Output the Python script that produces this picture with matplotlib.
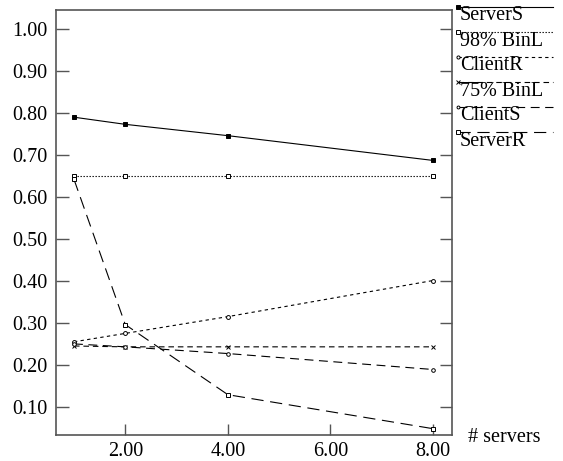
import matplotlib
matplotlib.use("Agg")
import matplotlib.pyplot as plt
from matplotlib.lines import Line2D

plt.rcParams['font.family'] = ['Liberation Serif', 'DejaVu Serif']

# number of servers
servers = [1, 2, 4, 8]

# one entry per curve
names = ["ServerS", "98% BinL", "ClientR", "75% BinL", "ClientS", "ServerR"]
server_s = [0.790, 0.773, 0.746, 0.687]
binl_98 = [0.650, 0.650, 0.650, 0.650]
client_r = [0.255, 0.275, 0.315, 0.401]
binl_75 = [0.245, 0.243, 0.243, 0.243]
client_s = [0.250, 0.243, 0.227, 0.189]
server_r = [0.642, 0.296, 0.129, 0.048]

yticks = [0.10, 0.20, 0.30, 0.40, 0.50, 0.60, 0.70, 0.80, 0.90, 1.00]
xticks = [2, 4, 6, 8]

series = [server_s, binl_98, client_r, binl_75, client_s, server_r]
styles = [
    dict(linestyle='-', marker='s', mfc='black', ms=3.2),
    dict(linestyle=(0, (1.2, 1.5)), marker='s', mfc='white', ms=3.4),
    dict(linestyle=(0, (3, 3)), marker='o', mfc='white', ms=2.8),
    dict(linestyle=(0, (5, 3.5)), marker='x', mfc='white', ms=3.2),
    dict(linestyle=(0, (8, 5)), marker='o', mfc='white', ms=2.6),
    dict(linestyle=(0, (11, 6)), marker='s', mfc='white', ms=3.4),
]
FS = 14.5

fig = plt.figure(figsize=(5.63, 4.61), dpi=100)
ax = fig.add_axes([0.0995, 0.0564, 0.7035, 0.9216])

for vals, st in zip(series, styles):
    ax.plot(servers, vals, color='black', lw=0.8, mec='black', mew=0.7, **st)

ax.set_xlim(0.65, 8.37)
ax.set_ylim(0.033, 1.045)
ax.set_xticks(xticks)
ax.set_xticklabels(["%.2f" % v for v in xticks], fontsize=FS)
ax.set_yticks(yticks)
ax.set_yticklabels(["%.2f" % v for v in yticks], fontsize=FS)
ax.tick_params(axis='x', direction='in', length=8, width=1, color='#555555', pad=5)
ax.tick_params(axis='y', direction='in', length=9, width=1, color='#555555',
               left=True, right=True, pad=6)
for sp in ax.spines.values():
    sp.set_color('#555555')
    sp.set_linewidth(1.2)

fig.text(0.831, 0.052, "# servers", fontsize=FS, va='center', ha='left')

# legend drawn by hand to the right of the axes
x0, x1 = 458 / 563, 553 / 563
for i, (name, st) in enumerate(zip(names, styles)):
    ly = 1 - (7 + 25 * i) / 461
    fig.add_artist(Line2D([x0, x1], [ly, ly], transform=fig.transFigure,
                          color='black', lw=0.8, linestyle=st['linestyle']))
    fig.add_artist(Line2D([x0], [ly], transform=fig.transFigure, color='black',
                          marker=st['marker'], mfc=st['mfc'], mec='black',
                          ms=st['ms'] * 0.8, mew=0.7, linestyle='none'))
    fig.text(460 / 563, ly - 9 / 461, name, fontsize=FS, va='center', ha='left')

fig.savefig("out.png", dpi=100)
